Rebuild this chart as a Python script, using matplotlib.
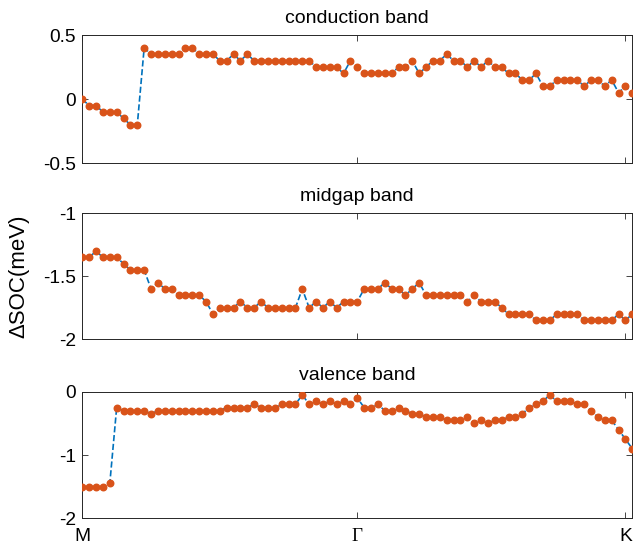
import matplotlib
matplotlib.use("Agg")
import matplotlib.pyplot as plt
import numpy as np

plt.rcParams['font.family'] = ['Liberation Sans', 'DejaVu Sans']

conduction = [0, -0.05, -0.05, -0.1, -0.1, -0.1, -0.15, -0.2, -0.2, 0.4,
              0.35, 0.35, 0.35, 0.35, 0.35, 0.4, 0.4, 0.35, 0.35, 0.35,
              0.3, 0.3, 0.35, 0.3, 0.35, 0.3, 0.3, 0.3, 0.3, 0.3,
              0.3, 0.3, 0.3, 0.3, 0.25, 0.25, 0.25, 0.25, 0.2, 0.3,
              0.25, 0.2, 0.2, 0.2, 0.2, 0.2, 0.25, 0.25, 0.3, 0.2,
              0.25, 0.3, 0.3, 0.35, 0.3, 0.3, 0.25, 0.3, 0.25, 0.3,
              0.25, 0.25, 0.2, 0.2, 0.15, 0.15, 0.2, 0.1, 0.1, 0.15,
              0.15, 0.15, 0.15, 0.1, 0.15, 0.15, 0.1, 0.15, 0.05, 0.1,
              0.05]
midgap = [-1.35, -1.35, -1.3, -1.35, -1.35, -1.35, -1.4, -1.45, -1.45, -1.45,
          -1.6, -1.55, -1.6, -1.6, -1.65, -1.65, -1.65, -1.65, -1.7, -1.8,
          -1.75, -1.75, -1.75, -1.7, -1.75, -1.75, -1.7, -1.75, -1.75, -1.75,
          -1.75, -1.75, -1.6, -1.75, -1.7, -1.75, -1.7, -1.75, -1.7, -1.7,
          -1.7, -1.6, -1.6, -1.6, -1.55, -1.6, -1.6, -1.65, -1.6, -1.55,
          -1.65, -1.65, -1.65, -1.65, -1.65, -1.65, -1.7, -1.65, -1.7, -1.7,
          -1.7, -1.75, -1.8, -1.8, -1.8, -1.8, -1.85, -1.85, -1.85, -1.8,
          -1.8, -1.8, -1.8, -1.85, -1.85, -1.85, -1.85, -1.85, -1.8, -1.85,
          -1.8]
valence = [-1.5, -1.5, -1.5, -1.5, -1.45, -0.25, -0.3, -0.3, -0.3, -0.3,
           -0.35, -0.3, -0.3, -0.3, -0.3, -0.3, -0.3, -0.3, -0.3, -0.3,
           -0.3, -0.25, -0.25, -0.25, -0.25, -0.2, -0.25, -0.25, -0.25, -0.2,
           -0.2, -0.2, -0.05, -0.2, -0.15, -0.2, -0.15, -0.2, -0.15, -0.2,
           -0.1, -0.25, -0.25, -0.2, -0.3, -0.3, -0.25, -0.3, -0.35, -0.35,
           -0.4, -0.4, -0.4, -0.45, -0.45, -0.45, -0.4, -0.5, -0.45, -0.5,
           -0.45, -0.45, -0.4, -0.4, -0.35, -0.25, -0.2, -0.15, -0.05, -0.15,
           -0.15, -0.15, -0.2, -0.2, -0.3, -0.4, -0.45, -0.45, -0.6, -0.75,
           -0.9]

titles = ['conduction band', 'midgap band', 'valence band']
ylims = [(-0.5, 0.5), (-2, -1), (-2, 0)]
yticks = [[-0.5, 0, 0.5], [-2, -1.5, -1], [-2, -1, 0]]
yticklabels = [['-0.5', '0', '0.5'], ['-2', '-1.5', '-1'], ['-2', '-1', '0']]
kpos = [0, 40, 79]
klabels = ['M', 'Γ', 'K']

W, H = 633, 546
fig = plt.figure(figsize=(W / 100, H / 100), dpi=100)
boxes = [(35, 163.3), (213.3, 339.3), (391.7, 518.3)]
left, right = 82.3, 632.3
blue = (0, 0.447, 0.741)
orange = (0.85, 0.325, 0.098)
axc = (0.15, 0.15, 0.15)
series = [conduction, midgap, valence]
for i, (top, bot) in enumerate(boxes):
    ax = fig.add_axes([left / W, (H - bot) / H, (right - left) / W, (bot - top) / H])
    y = np.array(series[i])
    x = np.arange(len(y))
    ax.plot(x, y, '--', color=blue, lw=1.2, zorder=2)
    ax.plot(x, y, 'o', color=orange, ms=4.7, mec=orange, zorder=3)
    ax.set_xlim(0, 80)
    ax.set_ylim(*ylims[i])
    ax.set_yticks(yticks[i])
    ax.set_yticklabels(yticklabels[i])
    ax.set_xticks(kpos)
    ax.tick_params(direction='in', length=4, width=0.6, colors=axc, labelsize=13.8,
                   top=True, right=True, labelcolor='black')
    ax.tick_params(axis='y', pad=4.5)
    ax.tick_params(axis='x', pad=7)
    if i == 2:
        ax.set_xticklabels(klabels)
        for lab in ax.get_xticklabels():
            if lab.get_text() == 'Γ':
                lab.set_family(['Liberation Serif', 'DejaVu Serif'])
    else:
        ax.set_xticklabels([])
    for s in ax.spines.values():
        s.set_color(axc)
        s.set_linewidth(0.7)
    ax.set_title(titles[i], fontsize=14, pad=8.5)
    if i == 1:
        ax.set_ylabel('ΔSOC(meV)', fontsize=16, labelpad=10)

fig.savefig('out.png', dpi=100)
